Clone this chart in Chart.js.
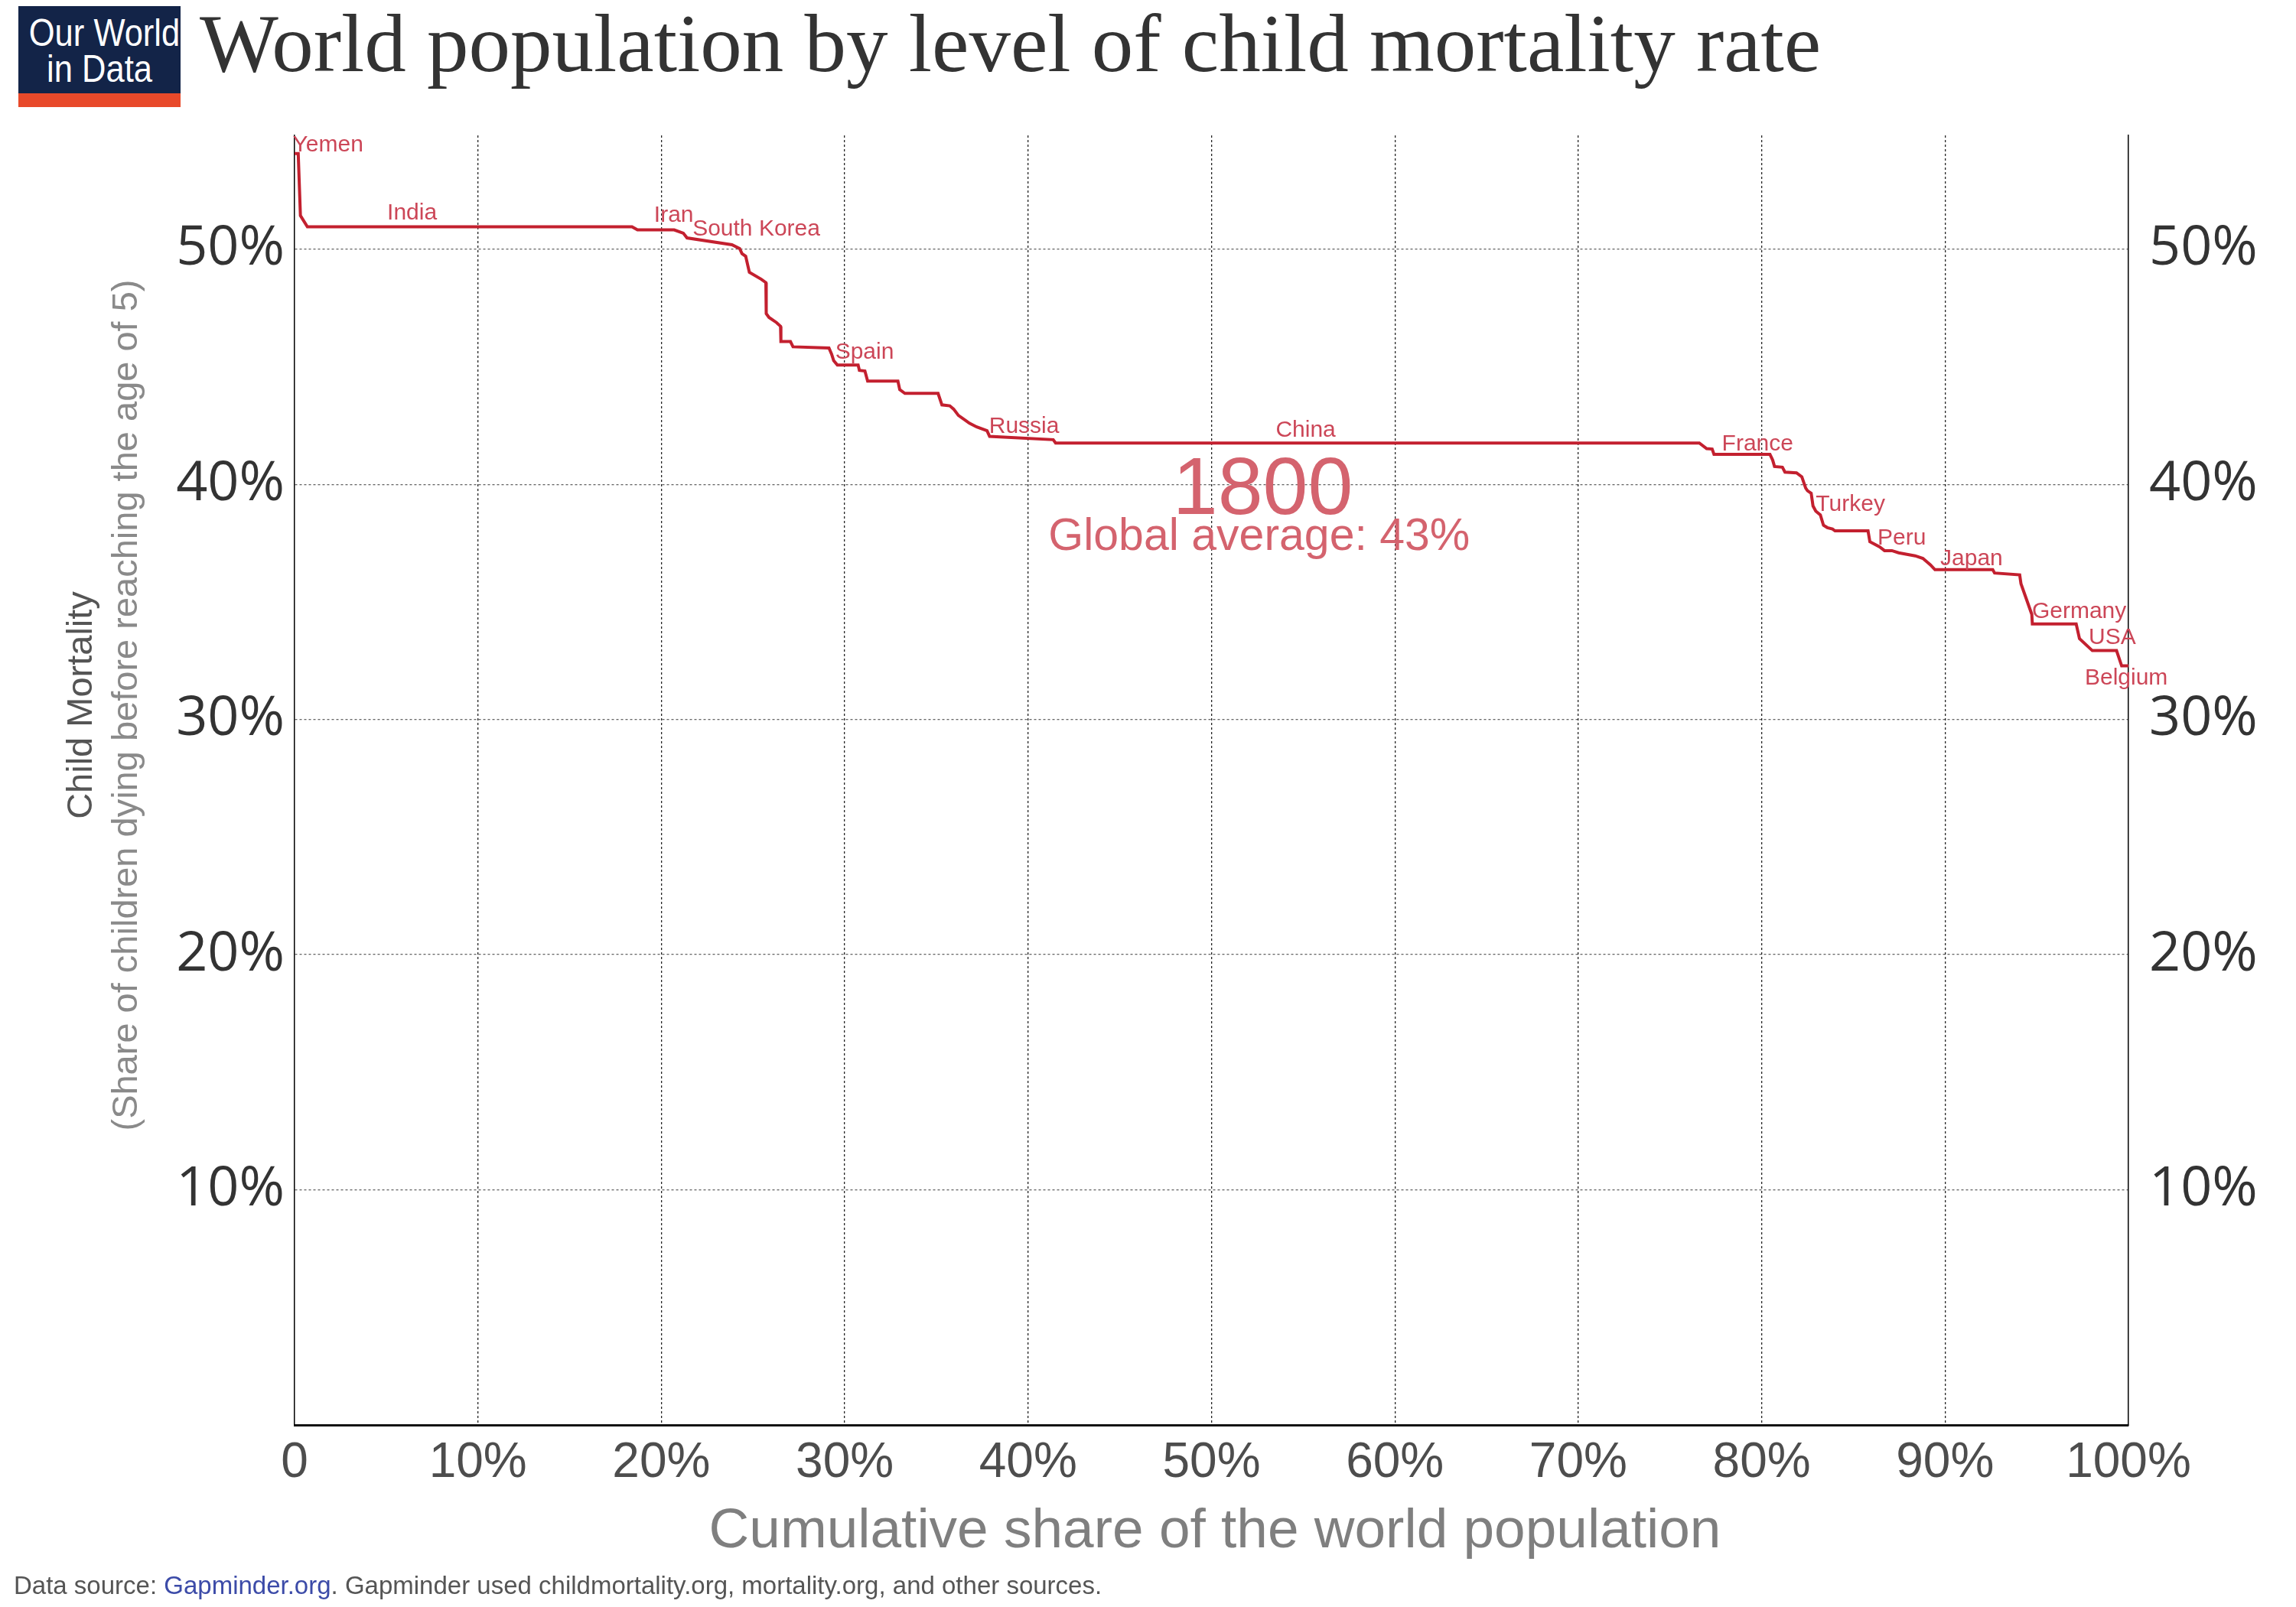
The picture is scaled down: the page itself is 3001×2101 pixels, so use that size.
<!DOCTYPE html>
<html>
<head>
<meta charset="utf-8">
<script src="https://cdn.jsdelivr.net/npm/chart.js@4.4.1/dist/chart.umd.min.js"></script>
<style>
  html, body { margin: 0; padding: 0; background: #fff; }
  body { width: 3001px; height: 2101px; position: relative; overflow: hidden; }
  #chart { position: absolute; left: 0; top: 0; }
  .logo { position: absolute; left: 24px; top: 8px; width: 212px; height: 132px; background: #132448; }
  .logo .bar { position: absolute; left: 0; bottom: 0; width: 100%; height: 18px; background: #e8492a; }
  .logo .t { position: absolute; left: 0; width: 100%; text-align: center; color: #fff; white-space: nowrap;
    font-family: "Liberation Sans", sans-serif; font-size: 50px; line-height: 50px;
    transform: scaleX(0.87); transform-origin: 50% 50%; }
  .title { position: absolute; left: 261px; top: 2px; font-family: "Liberation Serif", serif;
    font-size: 109px; line-height: 109px; color: #333; white-space: nowrap; }
  .source { position: absolute; left: 18px; top: 2056px; font-family: "Liberation Sans", sans-serif;
    font-size: 33px; line-height: 33px; color: #555; white-space: nowrap; }
  .source span { color: #3c4ba8; }
</style>
</head>
<body>
<canvas id="chart" width="3001" height="2101"></canvas>
<div class="logo">
  <div class="t" style="top:10px">Our World</div>
  <div class="t" style="top:57px">in Data</div>
  <div class="bar"></div>
</div>
<div class="title">World population by level of child mortality rate</div>
<div class="source">Data source: <span>Gapminder.org</span>. Gapminder used childmortality.org, mortality.org, and other sources.</div>
<script>
// cumulative share of world population (%) and child mortality (%) in 1800
const popShare = [0, 0.2, 0.32, 0.7, 18.4, 18.7, 20.7, 21.2, 21.4, 23.85, 24.27, 24.4, 24.6, 24.8, 25.45, 25.7, 25.72, 25.87, 26.28, 26.5,
  26.52, 27.04, 27.18, 29.14, 29.28, 29.4, 29.6, 30.73, 30.8, 31.1, 31.25, 32.9, 33.0, 33.28, 35.09, 35.3, 35.73, 35.94, 36.2, 36.6,
  36.8, 37.2, 37.76, 37.9, 41.37, 41.5, 76.6, 77.0, 77.3, 77.4, 80.45, 80.6, 80.7, 81.13, 81.27, 81.9, 82.19, 82.4, 82.5, 82.7,
  82.8, 82.95, 83.2, 83.37, 83.58, 83.86, 84.0, 85.8, 85.9, 86.43, 86.7, 87.1, 87.47, 88.37, 88.79, 89.2, 89.45, 92.6, 92.7, 94.07,
  94.14, 94.73, 94.76, 97.15, 97.33, 98.03, 99.35, 99.63, 100];
const mortality = [54.07, 54.07, 51.43, 50.95, 50.95, 50.82, 50.82, 50.68, 50.48, 50.19, 50.03, 49.81, 49.7, 49.02, 48.72, 48.58, 47.26, 47.1, 46.88, 46.72,
  46.07, 46.07, 45.85, 45.8, 45.55, 45.26, 45.07, 45.07, 44.85, 44.82, 44.39, 44.39, 44.03, 43.87, 43.87, 43.38, 43.34, 43.2, 42.93, 42.71,
  42.6, 42.44, 42.28, 42.04, 41.9, 41.76, 41.76, 41.52, 41.5, 41.28, 41.28, 41.03, 40.76, 40.73, 40.52, 40.49, 40.32, 39.84, 39.73, 39.62,
  39.08, 38.86, 38.7, 38.26, 38.16, 38.1, 38.02, 38.02, 37.56, 37.34, 37.18, 37.18, 37.09, 36.96, 36.85, 36.58, 36.37, 36.37, 36.23, 36.15,
  35.77, 34.47, 34.06, 34.06, 33.44, 32.93, 32.93, 32.28, 32.28];

// country labels, anchored in data units
const countryNames = ["Yemen", "India", "Iran", "South Korea", "Spain", "Russia", "China", "France", "Turkey", "Peru", "Japan", "Germany", "USA", "Belgium"];
const countryX = [-0.1, 5.05, 19.6, 21.7, 29.48, 37.87, 53.5, 77.83, 82.95, 86.32, 89.74, 94.74, 97.83, 97.62];
const countryY = [54.16, 51.25, 51.15, 50.57, 45.33, 42.19, 42.04, 41.44, 38.88, 37.45, 36.55, 34.33, 33.2, 31.49];

const yearLabel = "1800";
const globalAverage = 43;

const xTicks = [0, 10, 20, 30, 40, 50, 60, 70, 80, 90, 100];
const yTicks = [10, 20, 30, 40, 50];

const lineColor = "#c3202f";
const labelColor = "#cc4657";

const points = popShare.map((v, i) => ({ x: v, y: mortality[i] }));

const annotate = {
  id: "annotate",
  afterDatasetsDraw(chart) {
    const { ctx, scales: { x, y } } = chart;
    ctx.save();
    ctx.fillStyle = labelColor;
    ctx.font = '30px "Liberation Sans"';
    ctx.textAlign = "left";
    ctx.textBaseline = "alphabetic";
    countryNames.forEach((n, i) => {
      ctx.fillText(n, x.getPixelForValue(countryX[i]), y.getPixelForValue(countryY[i]));
    });

    ctx.fillStyle = "#d4636e";
    ctx.textAlign = "center";
    ctx.font = '106px "Liberation Sans"';
    ctx.fillText(yearLabel, x.getPixelForValue(52.8), y.getPixelForValue(38.75));
    ctx.font = '59px "Liberation Sans"';
    ctx.fillText("Global average: " + globalAverage + "%", x.getPixelForValue(52.6), y.getPixelForValue(37.2));
    ctx.restore();
  },
  afterDraw(chart) {
    const { ctx } = chart;
    ctx.save();
    // y axis title, two lines
    ctx.translate(0, 922);
    ctx.rotate(-Math.PI / 2);
    ctx.textAlign = "center";
    ctx.textBaseline = "alphabetic";
    ctx.font = '47px "Liberation Sans"';
    ctx.fillStyle = "#555";
    ctx.fillText("Child Mortality", 0, 120);
    ctx.fillStyle = "#8a8a8a";
    ctx.fillText("(Share of children dying before reaching the age of 5)", 0, 179);
    ctx.restore();

    ctx.save();
    ctx.font = '73px "Liberation Sans"';
    ctx.fillStyle = "#7f7f7f";
    ctx.textAlign = "center";
    ctx.fillText("Cumulative share of the world population", 1588, 2023);
    ctx.restore();
  }
};

new Chart(document.getElementById("chart"), {
  type: "line",
  data: {
    datasets: [{
      data: points,
      borderColor: lineColor,
      borderWidth: 4,
      pointRadius: 0,
      tension: 0,
      fill: false
    }]
  },
  options: {
    responsive: false,
    devicePixelRatio: 1,
    animation: false,
    parsing: false,
    layout: { padding: { top: 177, left: 0, right: 0, bottom: 0 } },
    plugins: { legend: { display: false }, tooltip: { enabled: false } },
    scales: {
      x: {
        type: "linear",
        min: 0,
        max: 100,
        afterFit(s) { s.height = 238; },
        afterBuildTicks(s) { s.ticks = xTicks.map(v => ({ value: v })); },
        border: { display: true, color: "#111", width: 3, dash: [3, 3] },
        grid: {
          drawTicks: false,
          color: c => (c.tick && (c.tick.value === 0 || c.tick.value === 100)) ? "rgba(0,0,0,0)" : "rgba(0,0,0,0.85)",
          lineWidth: 1.3
        },
        ticks: {
          padding: 12,
          color: "#4d4d4d",
          font: { family: "Liberation Sans", size: 64 },
          maxRotation: 0,
          callback: v => v === 0 ? "0" : v + "%"
        }
      },
      y: {
        type: "linear",
        position: "left",
        min: 0,
        max: 54.84,
        afterFit(s) { s.width = 385; },
        afterBuildTicks(s) { s.ticks = yTicks.map(v => ({ value: v })); },
        border: { display: true, color: "#000", width: 1.5, dash: [3, 3] },
        grid: { drawTicks: false, color: "rgba(0,0,0,0.6)", lineWidth: 1.3 },
        ticks: {
          padding: 13,
          color: "#333",
          font: { family: "Open Sans", size: 72 },
          callback: v => v + "%"
        }
      },
      y2: {
        type: "linear",
        position: "right",
        min: 0,
        max: 54.84,
        afterFit(s) { s.width = 219; },
        afterBuildTicks(s) { s.ticks = yTicks.map(v => ({ value: v })); },
        border: { display: true, color: "#000", width: 1.5 },
        grid: { display: false },
        ticks: {
          padding: 19,
          color: "#333",
          font: { family: "Open Sans", size: 72 },
          callback: v => v + "%"
        }
      }
    }
  },
  plugins: [annotate]
});
</script>
</body>
</html>
